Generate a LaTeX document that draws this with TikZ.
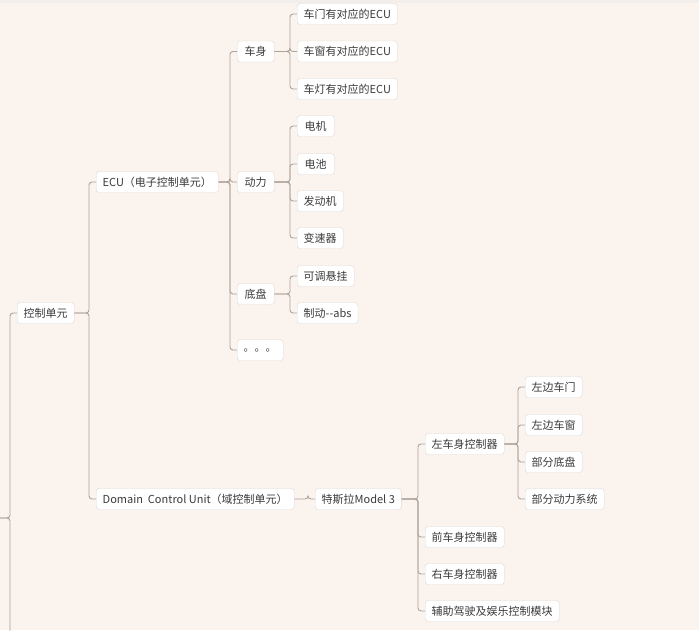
\documentclass[tikz,border=0pt]{standalone}
\usepackage{fontspec}
\setmainfont{Noto Sans CJK SC}
\usetikzlibrary{positioning}
\definecolor{paper}{HTML}{FBF3EE}
\definecolor{topstrip}{HTML}{F2EEEC}
\definecolor{linkgray}{HTML}{ADA39D}
\definecolor{framegray}{HTML}{DDD8D4}
\definecolor{inkgray}{HTML}{3A3A3A}
\tikzset{
  topic/.style={draw=framegray, rounded corners=3pt, fill=white, anchor=west, inner xsep=6.5pt, inner ysep=0pt, minimum height=21pt, minimum width=37pt, text=inkgray, font=\fontsize{11}{13}\selectfont},
  branch/.style={draw=linkgray, line width=0.9pt, rounded corners=3pt}
}

\begin{document}
\begin{tikzpicture}[x=1pt,y=-1pt]
\fill[paper] (0,0) rectangle (699,630);
\useasboundingbox (0,0) rectangle (699,630);
\fill[topstrip] (0,0) rectangle (699,3);
\clip (0,0) rectangle (699,630);
% main branches
\node[topic] (ctrl) at (17,313) {控制单元};
\node[topic] (ecu) at (96,182) {ECU（电子控制单元）};
\node[topic] (dcu) at (96,499) {Domain~~Control Unit（域控制单元）};
% ECU side
\node[topic] (body) at (237,51.5) {车身};
\node[topic] (power) at (237,182) {动力};
\node[topic] (chassis) at (237,294) {底盘};
\node[topic] (more) at (237,350) {。。。};
\foreach \name/\y/\txt in {door/14/车门有对应的ECU, window/51.5/车窗有对应的ECU, lamp/89/车灯有对应的ECU,
  motor/126/电机, battery/164/电池, engine/201/发动机, gearbox/238/变速器,
  susp/276/可调悬挂, brake/313/制动{-}{-}abs}
  \node[topic] (\name) at (297,\y) {\txt};
% domain side
\node[topic] (tesla) at (315,499) {特斯拉Model 3};
\foreach \name/\y/\txt in {lbody/444/左车身控制器, fbody/537/前车身控制器, rbody/574/右车身控制器, adas/611/辅助驾驶及娱乐控制模块}
  \node[topic] (\name) at (425,\y) {\txt};
\foreach \name/\y/\txt in {ldoor/387/左边车门, lwin/425/左边车窗, pchassis/462/部分底盘, ppower/499/部分动力系统}
  \node[topic] (\name) at (525,\y) {\txt};
% root outside the page
\coordinate (root) at (-30,518);
\coordinate (offstage) at (17,700);
\draw[branch] (ctrl.west) -- ++(-7,0) |- (root);
\draw[branch] (offstage) -- ++(-7,0) |- (root);
\foreach \p/\c in {ctrl/ecu,ctrl/dcu,ecu/body,ecu/power,ecu/chassis,ecu/more,
  body/door,body/window,body/lamp,power/motor,power/battery,power/engine,power/gearbox,
  chassis/susp,chassis/brake,dcu/tesla,tesla/lbody,tesla/fbody,tesla/rbody,tesla/adas,
  lbody/ldoor,lbody/lwin,lbody/pchassis,lbody/ppower}{\draw[branch] (\c.west) -- ++(-7,0) |- (\p.east);}
\end{tikzpicture}
\end{document}
